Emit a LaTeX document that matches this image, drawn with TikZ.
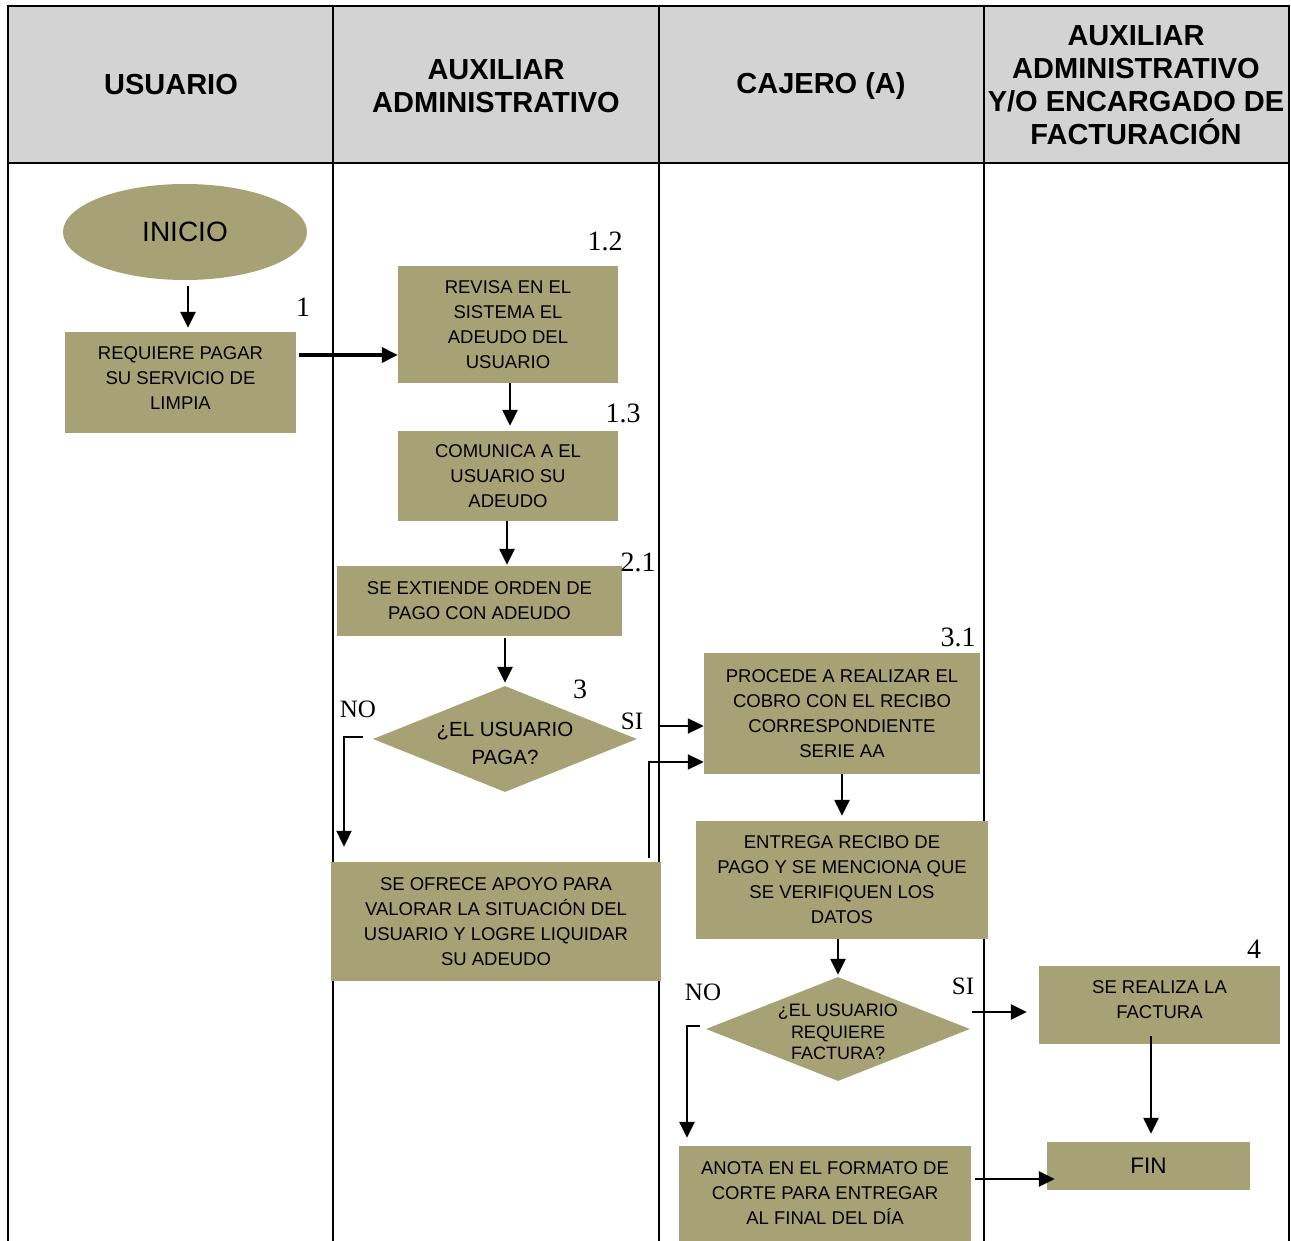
\documentclass[tikz,border=0pt]{standalone}
\usepackage{fontspec}
\setmainfont{Liberation Sans}
\newfontfamily\serifnum{Liberation Serif}
\usetikzlibrary{shapes.geometric,arrows.meta,calc}
\definecolor{boxfill}{RGB}{167,162,118}
\definecolor{hdrgray}{RGB}{211,211,211}
\begin{document}
\begin{tikzpicture}[x=1pt,y=-1pt,
  frame/.style={draw=black,line width=2pt},
  hdr/.style={align=center,inner sep=0pt,font=\bfseries\fontsize{29}{33}\selectfont},
  box/.style={rectangle,fill=boxfill,inner sep=0pt,align=center,font=\fontsize{18.5}{25}\selectfont},
  dia/.style={diamond,fill=boxfill,inner sep=0pt},
  txt/.style={align=center,inner sep=0pt},
  num/.style={inner sep=0pt,font=\serifnum\fontsize{28}{30}\selectfont},
  yn/.style={inner sep=0pt,font=\serifnum\fontsize{25}{27}\selectfont},
  arr/.style={draw=black,line width=2.5pt,-{Triangle[length=16pt,width=15pt]}}
]
\useasboundingbox (0,0) rectangle (1291,1241);
\clip (0,0) rectangle (1291,1241);
% header
\fill[hdrgray] (8,6) rectangle (1289,163);
\draw[frame] (8,1245) -- (8,6) -- (1289,6) -- (1289,1245);
\draw[frame] (8,163) -- (1289,163);
\foreach \xx in {333,659,984} \draw[frame] (\xx,6) -- (\xx,1245);
\node[hdr] (h1) at (171,85) {USUARIO};
\node[hdr] (h2) at (496,86) {AUXILIAR\\ADMINISTRATIVO};
\node[hdr] (h3) at (821,86) {CAJERO (A)};
\node[hdr] (h4) at (1136,85) {AUXILIAR\\ADMINISTRATIVO\\Y/O ENCARGADO DE\\FACTURACIÓN};
% shapes
\node[ellipse,fill=boxfill,minimum width=244pt,minimum height=96pt,inner sep=0pt,font=\fontsize{28}{30}\selectfont] (ini) at (185,232) {INICIO};
\node[box,minimum width=231pt,minimum height=101pt] (b1) at (180.5,382.5) {};
\node[txt,font=\fontsize{18.5}{25}\selectfont] (b1t) at (180.5,378) {REQUIERE PAGAR\\SU SERVICIO DE\\LIMPIA};
\node[box,minimum width=220pt,minimum height=117pt] (b12) at (508,324.5) {REVISA EN EL\\SISTEMA EL\\ADEUDO DEL\\USUARIO};
\node[box,minimum width=220pt,minimum height=90pt] (b13) at (508,476) {COMUNICA A EL\\USUARIO SU\\ADEUDO};
\node[box,minimum width=285pt,minimum height=70pt] (b21) at (479.5,601) {SE EXTIENDE ORDEN DE\\PAGO CON ADEUDO};
\node[dia,minimum width=264pt,minimum height=106pt] (d3) at (505,739) {};
\node[txt,font=\fontsize{20.5}{28}\selectfont] (d3t) at (505,743) {¿EL USUARIO\\PAGA?};
\node[box,minimum width=330pt,minimum height=119pt] (bof) at (496,921.5) {SE OFRECE APOYO PARA\\VALORAR LA SITUACIÓN DEL\\USUARIO Y LOGRE LIQUIDAR\\SU ADEUDO};
\node[box,minimum width=276pt,minimum height=121pt] (b31) at (842,713.5) {PROCEDE A REALIZAR EL\\COBRO CON EL RECIBO\\CORRESPONDIENTE\\SERIE AA};
\node[box,minimum width=292pt,minimum height=118pt] (bent) at (842,880) {ENTREGA RECIBO DE\\PAGO Y SE MENCIONA QUE\\SE VERIFIQUEN LOS\\DATOS};
\node[dia,minimum width=264pt,minimum height=104pt] (d2) at (838,1029) {};
\node[txt,font=\fontsize{18}{21.5}\selectfont] (d2t) at (838,1032) {¿EL USUARIO\\REQUIERE\\FACTURA?};
\node[box,minimum width=292pt,minimum height=104pt] (ban) at (825,1198) {};
\node[txt,font=\fontsize{18.5}{25}\selectfont] (bant) at (825,1193) {ANOTA EN EL FORMATO DE\\CORTE PARA ENTREGAR\\AL FINAL DEL DÍA};
\node[box,minimum width=241pt,minimum height=78pt] (b4) at (1159.5,1005) {};
\node[txt,font=\fontsize{18.5}{25}\selectfont] (b4t) at (1159.5,1000) {SE REALIZA LA\\FACTURA};
\node[box,minimum width=203pt,minimum height=48pt,font=\fontsize{22.5}{25}\selectfont] (fin) at (1148.5,1166) {FIN};
% labels
\node[num] (l1) at (303,307) {1};
\node[num] (l12) at (605,241) {1.2};
\node[num] (l13) at (623,413) {1.3};
\node[num] (l21) at (638,562) {2.1};
\node[num] (l3) at (580,689) {3};
\node[num] (l31) at (958,637) {3.1};
\node[num] (l4) at (1254,949) {4};
\node[yn] (no1) at (358,709) {NO};
\node[yn] (si1) at (632,721) {SI};
\node[yn] (no2) at (703,992) {NO};
\node[yn] (si2) at (963,986) {SI};
% connectors
\draw[arr] ($(ini.south)+(3,6)$) -- ($(b1.north)+(7.5,-4)$);
\draw[arr,line width=3.5pt] ($(b1.east)+(3,-27.5)$) -- ($(b12.west)+(0,30.5)$);
\draw[arr] ($(b12.south)+(2,0)$) -- ($(b13.north)+(2,-5)$);
\draw[arr] ($(b13.south)+(-1,0)$) -- ($(b21.north)+(27.5,-1)$);
\draw[arr] ($(b21.south)+(25.5,2)$) -- ($(d3.north)+(0,-3)$);
\coordinate (si1s) at ($(d3.east)+(22,-13)$);
\draw[arr,line width=2pt] (si1s) -- ($(b31.west)+(0,12.5)$);
\draw[arr,line width=2pt] ($(d3.west)+(-10,-2)$) -| ($(bof.north)+(-152,-15)$);
\draw[arr,line width=2pt] ($(bof.north)+(153,-4)$) |- ($(b31.west)+(0,48.5)$);
\draw[arr] (b31.south) -- ($(bent.north)+(0,-5)$);
\draw[arr] ($(bent.south)+(-4,0)$) -- ($(d2.north)+(0,-2)$);
\draw[arr] ($(d2.east)+(2,-17)$) -- ($(b4.west)+(-12,7)$);
\draw[arr] ($(d2.west)+(-6,-3)$) -| ($(ban.north)+(-138,-8)$);
\draw[arr] ($(ban.east)+(4,-19)$) -- ($(fin.west)+(8,13)$);
\draw[arr] ($(b4.south)+(-8.5,-8)$) -- ($(fin.north)+(2.5,-8)$);
\end{tikzpicture}
\end{document}
